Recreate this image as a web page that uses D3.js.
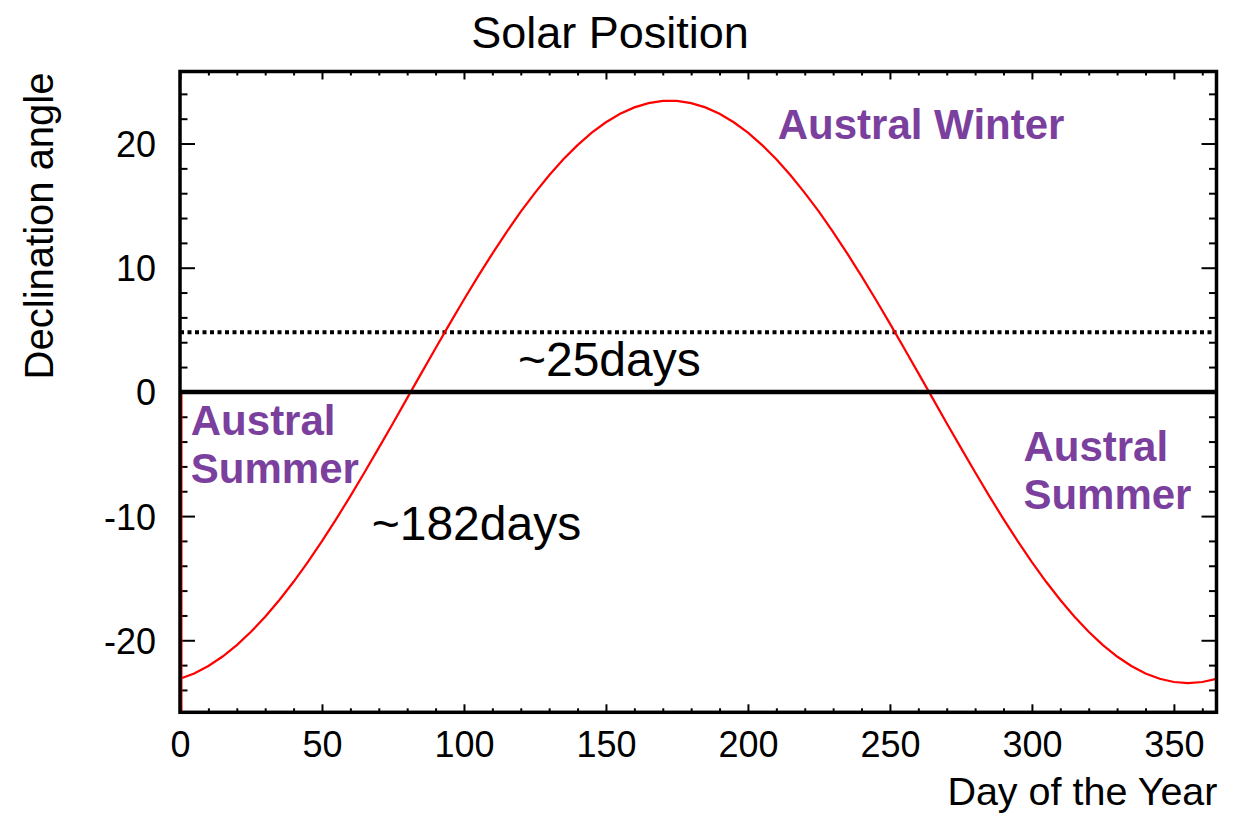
<!DOCTYPE html>
<html>
<head>
<meta charset="utf-8">
<script src="https://cdn.jsdelivr.net/npm/d3@7"></script>
<style>
	body { margin: 0; background: #fff; }
	svg { display: block; font-family: "Liberation Sans", Arial, Helvetica, sans-serif; }
</style>
</head>
<body>
<svg id="chart" width="1247" height="813"></svg>
<script>
// day of the year, sampled every 5 days
var days = [0, 5, 10, 15, 20, 25, 30, 35, 40, 45, 50, 55, 60, 65, 70, 75, 80, 85, 90, 95,
	100, 105, 110, 115, 120, 125, 130, 135, 140, 145, 150, 155, 160, 165, 170, 175, 180, 185, 190, 195,
	200, 205, 210, 215, 220, 225, 230, 235, 240, 245, 250, 255, 260, 265, 270, 275, 280, 285, 290, 295,
	300, 305, 310, 315, 320, 325, 330, 335, 340, 345, 350, 355, 360, 365];
// declination angle (deg)
var declination = [-23.10, -22.67, -22.07, -21.31, -20.39, -19.32, -18.11, -16.76, -15.29, -13.70,
	-12.02, -10.24, -8.39, -6.47, -4.51, -2.52, -0.50, 1.51, 3.52, 5.50,
	7.44, 9.32, 11.14, 12.87, 14.51, 16.03, 17.44, 18.73, 19.87, 20.87,
	21.71, 22.39, 22.91, 23.25, 23.43, 23.43, 23.25, 22.91, 22.39, 21.71,
	20.87, 19.87, 18.73, 17.44, 16.03, 14.51, 12.87, 11.14, 9.32, 7.44,
	5.50, 3.52, 1.51, -0.50, -2.52, -4.51, -6.47, -8.39, -10.24, -12.02,
	-13.70, -15.29, -16.76, -18.11, -19.32, -20.39, -21.31, -22.07, -22.67, -23.10,
	-23.36, -23.45, -23.36, -23.10];
var xTicks = [0, 50, 100, 150, 200, 250, 300, 350];
var yTicks = [-20, -10, 0, 10, 20];
var refLines = [0, 4.8]; // solid horizon, dotted threshold
var labels = [
	{ text: "~25days", x: 119, y: 1.3 },
	{ text: "~182days", x: 67.5, y: -11.9 }
];
var seasons = [
	{ lines: ["Austral Winter"], x: 210.5, y: 20.4 },
	{ lines: ["Austral", "Summer"], x: 3.8, y: -3.5 },
	{ lines: ["Austral", "Summer"], x: 297, y: -5.6 }
];

var svg = d3.select("#chart");
var W = 1247, H = 813;
var pLeft = 180, pRight = 1216.5, pTop = 71.5, pBottom = 712.3;

svg.append("rect").attr("width", W).attr("height", H).attr("fill", "#fff");

var x = d3.scaleLinear().domain([0, 365]).range([pLeft, pRight]);
var y = d3.scaleLinear().domain([-25.8, 25.8]).range([pBottom, pTop]);

// minor ticks, all four sides
var minorX = d3.range(0, 366, 10).filter(function(d) { return d % 50 !== 0; });
var minorY = d3.range(-24, 25, 2).filter(function(d) { return d % 10 !== 0; });

function axisGroup(axis, tx, ty) {
	var g = svg.append("g").attr("transform", "translate(" + tx + "," + ty + ")").call(axis);
	g.select(".domain").remove();
	g.selectAll(".tick line").attr("stroke", "#000").attr("stroke-width", 2);
	return g;
}
var plain = function(d) { return String(d); }; // ROOT uses a hyphen for minus

axisGroup(d3.axisBottom(x).tickValues(minorX).tickSize(-4).tickFormat(""), 0, pBottom);
axisGroup(d3.axisTop(x).tickValues(minorX).tickSize(-4).tickFormat(""), 0, pTop);
axisGroup(d3.axisLeft(y).tickValues(minorY).tickSize(-7.5).tickFormat(""), pLeft, 0);
axisGroup(d3.axisRight(y).tickValues(minorY).tickSize(-7.5).tickFormat(""), pRight, 0);

var xAxis = axisGroup(d3.axisBottom(x).tickValues(xTicks).tickSize(-8).tickPadding(19).tickFormat(plain), 0, pBottom);
axisGroup(d3.axisTop(x).tickValues(xTicks).tickSize(-8).tickFormat(""), 0, pTop);
var yAxis = axisGroup(d3.axisLeft(y).tickValues(yTicks).tickSize(-15).tickPadding(24).tickFormat(plain), pLeft, 0);
axisGroup(d3.axisRight(y).tickValues(yTicks).tickSize(-15).tickFormat(""), pRight, 0);

xAxis.attr("font-size", null).attr("font-family", null);
yAxis.attr("font-size", null).attr("font-family", null);
xAxis.selectAll("text").attr("font-size", 36).attr("fill", "#000");
yAxis.selectAll("text").attr("font-size", 36).attr("fill", "#000").attr("dy", "0.36em");

// reference lines
svg.append("line")
	.attr("x1", pLeft).attr("x2", pRight)
	.attr("y1", y(refLines[1])).attr("y2", y(refLines[1]))
	.attr("stroke", "#000").attr("stroke-width", 4)
	.attr("stroke-dasharray", "4,3.5");

// red curve, with the histogram edges at both ends
var pts = days.map(function(d, i) { return [d, declination[i]]; });
var curve = [[0, -25.8]].concat(pts).concat([[365, 0]]);
var line = d3.line()
	.x(function(d) { return x(d[0]); })
	.y(function(d) { return y(d[1]); });
svg.append("path")
	.datum(curve)
	.attr("d", line)
	.attr("fill", "none")
	.attr("stroke", "#ff0000")
	.attr("stroke-width", 2.2);
svg.append("line")
	.attr("x1", x(0) + 1).attr("x2", x(0) + 1)
	.attr("y1", y(0)).attr("y2", y(-25.8))
	.attr("stroke", "#ff0000").attr("stroke-width", 3);

svg.append("line")
	.attr("x1", pLeft).attr("x2", pRight)
	.attr("y1", y(refLines[0])).attr("y2", y(refLines[0]))
	.attr("stroke", "#000").attr("stroke-width", 4.5);

// frame
svg.append("rect")
	.attr("x", pLeft).attr("y", pTop)
	.attr("width", pRight - pLeft).attr("height", pBottom - pTop)
	.attr("fill", "none").attr("stroke", "#000").attr("stroke-width", 3.5);

// annotations
labels.forEach(function(l) {
	svg.append("text")
		.attr("x", x(l.x)).attr("y", y(l.y))
		.attr("font-size", 48).attr("fill", "#000")
		.text(l.text);
});

seasons.forEach(function(s) {
	var t = svg.append("text")
		.attr("x", x(s.x)).attr("y", y(s.y))
		.attr("font-size", 42).attr("font-weight", "bold").attr("fill", "#7b3f9e");
	s.lines.forEach(function(str, i) {
		t.append("tspan").attr("x", x(s.x)).attr("dy", i === 0 ? 0 : 48).text(str);
	});
});

// titles
svg.append("text")
	.attr("x", 610).attr("y", 48)
	.attr("text-anchor", "middle")
	.attr("font-size", 45).attr("fill", "#000")
	.text("Solar Position");

svg.append("text")
	.attr("x", pRight + 1).attr("y", 805)
	.attr("text-anchor", "end")
	.attr("font-size", 39.5).attr("fill", "#000")
	.text("Day of the Year");

svg.append("text")
	.attr("transform", "translate(53," + (pTop + 1) + ") rotate(-90)")
	.attr("text-anchor", "end")
	.attr("font-size", 40).attr("fill", "#000")
	.text("Declination angle");
</script>
</body>
</html>
